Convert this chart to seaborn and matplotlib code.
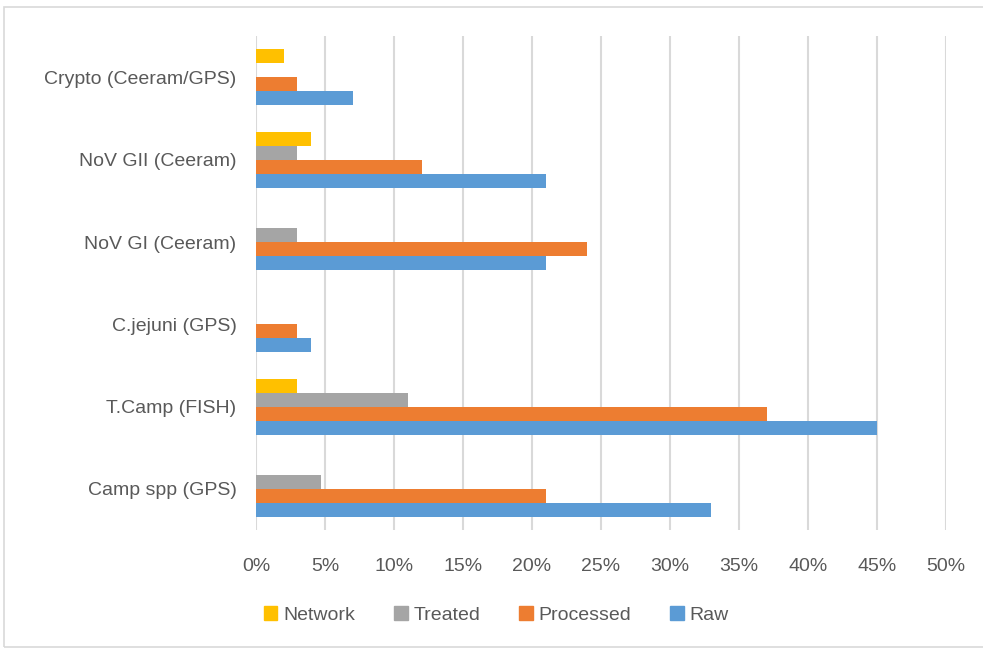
import pandas as pd
import seaborn as sns
import matplotlib.pyplot as plt
from matplotlib.patches import Rectangle
from matplotlib.ticker import PercentFormatter

# Data (percent), categories listed top to bottom
categories = ["Crypto (Ceeram/GPS)", "NoV GII (Ceeram)", "NoV GI (Ceeram)",
              "C.jejuni (GPS)", "T.Camp (FISH)", "Camp spp (GPS)"]
network = [2, 4, 0, 0, 3, 0]
treated = [0, 3, 3, 0, 11, 4.7]
processed = [3, 12, 24, 3, 37, 21]
raw = [7, 21, 21, 4, 45, 33]
series = ["Network", "Treated", "Processed", "Raw"]
colors = ["#FFC000", "#A5A5A5", "#ED7D31", "#5B9BD5"]

rows = []
for name, vals in zip(series, [network, treated, processed, raw]):
    for cat, v in zip(categories, vals):
        rows.append({"Sample": cat, "Stage": name, "Value": v})
df = pd.DataFrame(rows)

sns.set_style("white")
plt.rcParams["font.family"] = ["Liberation Sans", "DejaVu Sans"]

fig = plt.figure(figsize=(9.83, 6.48), dpi=100)
ax = fig.add_axes([0.2604, 0.182, 0.7020, 0.762])

sns.barplot(data=df, y="Sample", x="Value", hue="Stage", order=categories,
            hue_order=series, palette=colors, orient="h", width=0.68,
            gap=0, saturation=1, linewidth=0, ax=ax, legend=False)

ax.set_xlim(0, 50)
ax.set_xticks(range(0, 51, 5))
ax.xaxis.set_major_formatter(PercentFormatter(decimals=0))
ax.grid(axis="x", color="#D9D9D9", linewidth=1.5)
ax.set_axisbelow(True)
for s in ax.spines.values():
    s.set_visible(False)
ax.set_xlabel("")
ax.set_ylabel("")
ax.tick_params(axis="both", length=0, labelsize=14, colors="#595959")
ax.tick_params(axis="x", pad=20)
ax.tick_params(axis="y", pad=14)

handles = [plt.Rectangle((0, 0), 1, 1, color=c) for c in colors]
fig.legend(handles, series, loc="center", bbox_to_anchor=(0.505, 0.051), ncol=4,
           frameon=False, fontsize=14, handlelength=0.7, handleheight=0.7,
           handletextpad=0.3, columnspacing=2.0, labelcolor="#595959")

fig.patches.append(Rectangle((0.004, 0.002), 1.2, 0.987, transform=fig.transFigure,
                             fill=False, edgecolor="#D9D9D9", linewidth=1.2))

fig.savefig("out.png", dpi=100)
